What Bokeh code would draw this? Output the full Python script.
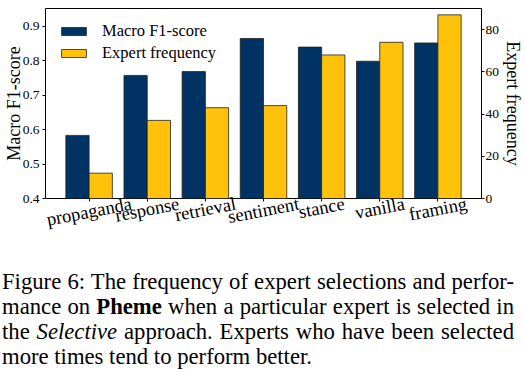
import math
from bokeh.plotting import figure
from bokeh.models import (Range1d, LinearAxis, FixedTicker, ColumnDataSource, Div,
                          Legend, LegendItem)
from bokeh.layouts import column
from bokeh.embed import file_html
from bokeh.resources import INLINE

categories = ["propaganda", "response", "retrieval", "sentiment", "stance", "vanilla", "framing"]
f1_scores = [0.583, 0.757, 0.768, 0.864, 0.839, 0.798, 0.851]
expert_freq = [12, 37, 43, 44, 68, 74, 87]
left_ticks = [0.4, 0.5, 0.6, 0.7, 0.8, 0.9]
right_ticks = [0, 20, 40, 60, 80]

BLUE = "#003263"
YELLOW = "#FFC20A"
FONT = "Liberation Serif"

FW, FH = 436, 190
XLAB_PX = 18.5
XLAB_ANGLE = 11

idx = list(range(len(categories)))
src = ColumnDataSource(dict(
    x_f1=[i - 0.2 for i in idx],
    x_fr=[i + 0.2 for i in idx],
    f1=f1_scores,
    freq=expert_freq,
))

X0, X1 = -0.75, len(categories) - 0.25
Y0 = left_ticks[0]
p = figure(frame_width=FW, frame_height=FH, output_backend="svg", toolbar_location=None,
           x_range=Range1d(X0, X1),
           y_range=Range1d(Y0, 0.951),
           min_border_left=38, min_border_right=36, min_border_top=8, min_border_bottom=66)
p.extra_y_ranges = {"freq": Range1d(0, 90)}

r1 = p.vbar(x="x_f1", top="f1", bottom=Y0, width=0.4, source=src,
            fill_color=BLUE, line_color="#222222", line_width=1, line_alpha=0.8)
r2 = p.vbar(x="x_fr", top="freq", bottom=0, width=0.4, source=src, y_range_name="freq",
            fill_color=YELLOW, line_color="#222222", line_width=1, line_alpha=0.8)

p.xgrid.visible = False
p.ygrid.visible = False
p.outline_line_color = "black"
p.outline_line_width = 1
p.background_fill_color = "white"
p.border_fill_color = "white"

# x axis 1: tick marks only at the bar-group centres
xa = p.xaxis[0]
xa.ticker = FixedTicker(ticks=idx)
xa.major_label_overrides = {i: "" for i in idx}
xa.major_label_text_font_size = "1px"
xa.major_label_standoff = 0
xa.minor_tick_line_color = None
xa.major_tick_out = 3
xa.major_tick_in = 0
xa.axis_line_color = None

# x axis 2: rotated category labels, shifted so each label is centred on its tick
# (Bokeh right-aligns rotated labels at the tick position)
CW = dict(a=.444, b=.5, c=.444, d=.5, e=.444, f=.333, g=.5, h=.5, i=.278, j=.278, k=.5,
          l=.278, m=.778, n=.5, o=.5, p=.5, q=.5, r=.333, s=.389, t=.278, u=.5, v=.5,
          w=.722, x=.5, y=.5, z=.444)
px_per_unit = FW / (X1 - X0)
cosA = math.cos(math.radians(XLAB_ANGLE))
label_ticks = []
for i, cat in zip(idx, categories):
    L = sum(CW.get(ch, .5) for ch in cat) * XLAB_PX
    label_ticks.append(i + (L * cosA / 2) / px_per_unit)
xl = LinearAxis(ticker=FixedTicker(ticks=label_ticks))
xl.major_label_overrides = {t: c for t, c in zip(label_ticks, categories)}
xl.major_label_orientation = math.radians(XLAB_ANGLE)
xl.major_label_text_font = FONT
xl.major_label_text_font_size = f"{XLAB_PX}px"
xl.major_label_text_color = "black"
xl.major_label_standoff = 2
xl.major_tick_line_color = None
xl.minor_tick_line_color = None
xl.major_tick_out = 0
xl.major_tick_in = 0
xl.axis_line_color = None
p.add_layout(xl, "below")

# left axis
ya = p.yaxis[0]
ya.ticker = FixedTicker(ticks=left_ticks)
ya.axis_label = "Macro F1-score"
ya.axis_label_text_font = FONT
ya.axis_label_text_font_size = "18px"
ya.axis_label_text_font_style = "normal"
ya.axis_label_text_color = "black"
ya.axis_label_standoff = -4
ya.major_label_text_font = FONT
ya.major_label_text_font_size = "13.5px"
ya.major_label_text_color = "black"
ya.minor_tick_line_color = None
ya.major_tick_out = 3
ya.major_tick_in = 0
ya.axis_line_color = None
ya.major_label_standoff = 3

# right axis
ra = LinearAxis(y_range_name="freq", ticker=FixedTicker(ticks=right_ticks))
ra.axis_label = "Expert frequency"
ra.axis_label_text_font = FONT
ra.axis_label_text_font_size = "18px"
ra.axis_label_text_font_style = "normal"
ra.axis_label_text_color = "black"
ra.axis_label_standoff = 1
ra.major_label_text_font = FONT
ra.major_label_text_font_size = "13.5px"
ra.major_label_text_color = "black"
ra.minor_tick_line_color = None
ra.major_tick_out = 3
ra.major_tick_in = 0
ra.axis_line_color = None
ra.major_label_standoff = 1
p.add_layout(ra, "right")

legend = Legend(items=[LegendItem(label="Macro F1-score", renderers=[r1]),
                       LegendItem(label="Expert frequency", renderers=[r2])],
                location="top_left")
legend.label_text_font = FONT
legend.label_text_font_size = "16.5px"
legend.label_text_color = "black"
legend.glyph_width = 31
legend.glyph_height = 10
legend.label_height = 10
legend.spacing = 2
legend.label_standoff = 13
legend.border_line_color = None
legend.background_fill_alpha = 0
legend.margin = 13
legend.padding = 0
p.add_layout(legend)

line_style = "white-space: nowrap; text-align: justify; text-align-last: justify;"
caption_html = (
    '<div style="font-family: \'Liberation Serif\'; font-size: 22.7px; line-height: 25px; '
    'color: black; width: 512px; margin-left: -3px;">'
    f'<div style="{line_style}">Figure 6: The frequency of expert selections and perfor-</div>'
    f'<div style="{line_style}">mance on <b>Pheme</b> when a particular expert is selected in</div>'
    f'<div style="{line_style}">the <i>Selective</i> approach. Experts who have been selected</div>'
    '<div style="white-space: nowrap; text-align: left;">more times tend to perform better.</div>'
    '</div>'
)
cap = Div(text=caption_html, width=512, height=100)

layout = column(p, cap, spacing=0)
open("out.html", "w").write(file_html(layout, INLINE))
